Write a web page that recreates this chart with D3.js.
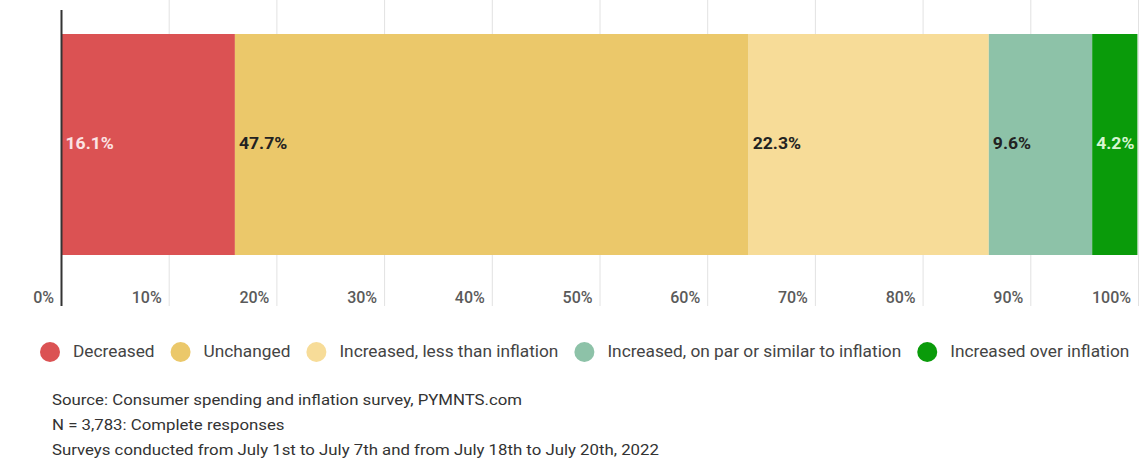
<!DOCTYPE html>
<html>
<head>
<meta charset="utf-8">
<script src="https://cdn.jsdelivr.net/npm/d3@7"></script>
<style>
  html, body { margin: 0; padding: 0; background: #fff; }
  svg { display: block; font-family: Roboto, "Noto Sans", sans-serif; }
</style>
</head>
<body>
<svg id="chart" width="1147" height="462"></svg>
<script>
// Share of consumers by change in spending
const categories = [
  "Decreased",
  "Unchanged",
  "Increased, less than inflation",
  "Increased, on par or similar to inflation",
  "Increased over inflation"
];
const values = [16.1, 47.7, 22.3, 9.6, 4.2];
const colors = ["#db5253", "#ebc86a", "#f7dc98", "#8dc2a8", "#0a9b0a"];
const labelColors = ["#fbe3e3", "#222222", "#222222", "#222222", "#d6f5d0"];
const tickValues = [0, 10, 20, 30, 40, 50, 60, 70, 80, 90, 100];
const footnotes = [
  "Source: Consumer spending and inflation survey, PYMNTS.com",
  "N = 3,783: Complete responses",
  "Surveys conducted from July 1st to July 7th and from July 18th to July 20th, 2022"
];

const svg = d3.select("#chart");

const x = d3.scaleLinear().domain([0, 100]).range([61.5, 1138.5]);
const y = d3.scaleBand().domain(["all"]).range([34, 255]).padding(0);

// gridlines
svg.append("g")
  .selectAll("line")
  .data(tickValues.slice(1))
  .join("line")
  .attr("x1", d => x(d)).attr("x2", d => x(d))
  .attr("y1", 0).attr("y2", 306)
  .attr("stroke", "#e2e2e2")
  .attr("stroke-width", 1);

// stacked segments
let acc = 0;
const segs = values.map((v, i) => {
  const s = { name: categories[i], value: v, x0: acc, x1: acc + v, color: colors[i], lc: labelColors[i] };
  acc += v;
  return s;
});

svg.append("g")
  .selectAll("rect")
  .data(segs)
  .join("rect")
  .attr("x", d => x(d.x0))
  .attr("width", d => x(d.x1) - x(d.x0))
  .attr("y", y("all"))
  .attr("height", y.bandwidth())
  .attr("fill", d => d.color);

// value labels, slightly widened type
const labelY = y("all") + y.bandwidth() / 2 - 1;
svg.append("g")
  .selectAll("text")
  .data(segs)
  .join("text")
  .attr("transform", d => `translate(${x(d.x0) + 4},${labelY}) scale(1.1,1)`)
  .attr("dominant-baseline", "central")
  .attr("font-size", 16)
  .attr("font-weight", 700)
  .attr("fill", d => d.lc)
  .text(d => d.value.toFixed(1) + "%");

// axis tick labels, right-aligned just left of each gridline
const axis = d3.axisBottom(x)
  .tickValues(tickValues)
  .tickFormat(d => d + "%")
  .tickSize(0);
const ag = svg.append("g").attr("transform", "translate(0,286)").call(axis);
ag.select(".domain").remove();
ag.selectAll("text")
  .attr("text-anchor", "end")
  .attr("dx", -8)
  .attr("dy", "0.9em")
  .attr("font-size", 16)
  .attr("font-weight", 500)
  .attr("font-family", "Roboto, sans-serif")
  .attr("fill", "#5a5a5a");

// baseline axis
svg.append("line")
  .attr("x1", x(0)).attr("x2", x(0))
  .attr("y1", 10).attr("y2", 306)
  .attr("stroke", "#333")
  .attr("stroke-width", 2);

// legend
const sxLegend = 1.08;
const legend = svg.append("g").attr("transform", "translate(0,352)");
let lx = 50;
categories.forEach((c, i) => {
  legend.append("circle").attr("cx", lx).attr("cy", 0).attr("r", 10).attr("fill", colors[i]);
  const t = legend.append("text")
    .attr("transform", `translate(${lx + 23},0) scale(${sxLegend},1)`)
    .attr("dominant-baseline", "central")
    .attr("font-size", 16)
    .attr("fill", "#444")
    .text(c);
  const w = t.node().getComputedTextLength() * sxLegend;
  lx = lx + 23 + w + 26;
});

// footnotes
svg.append("g")
  .selectAll("text")
  .data(footnotes)
  .join("text")
  .attr("transform", (d, i) => `translate(52,${400 + i * 25}) scale(1.12,1)`)
  .attr("dominant-baseline", "central")
  .attr("font-size", 15)
  .attr("fill", "#333")
  .text(d => d);
</script>
</body>
</html>
